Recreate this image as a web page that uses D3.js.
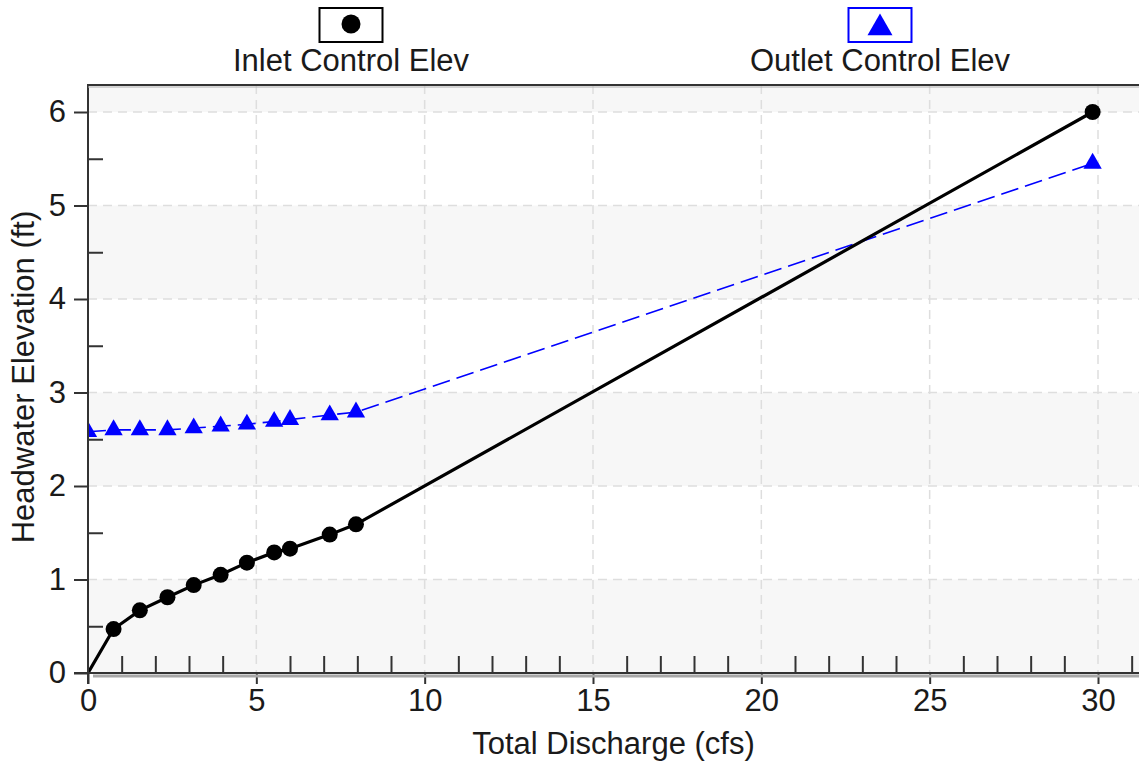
<!DOCTYPE html>
<html>
<head>
<meta charset="utf-8">
<script src="https://cdn.jsdelivr.net/npm/d3@7"></script>
<style>
  body { margin: 0; background: #fff; }
  text { font-family: "Liberation Sans", Arial, sans-serif; fill: #1a1a1a; }
</style>
</head>
<body>
<svg width="1139" height="769"></svg>
<script>
// values
const discharge = [0, 0.76, 1.54, 2.36, 3.14, 3.94, 4.72, 5.53, 6.0, 7.18, 7.96, 29.84]
const inletElev = [0, 0.47, 0.67, 0.81, 0.94, 1.05, 1.18, 1.29, 1.33, 1.48, 1.59, 6.0]
const outletElev = [2.58, 2.60, 2.60, 2.60, 2.62, 2.64, 2.66, 2.69, 2.71, 2.76, 2.79, 5.45]
const xTicks = [0, 5, 10, 15, 20, 25, 30]
const xMinorTicks = d3.range(1, 32).filter(d => d % 5 !== 0)
const yTicks = [0, 1, 2, 3, 4, 5, 6]
const yMinorTicks = [0.5, 1.5, 2.5, 3.5, 4.5, 5.5]
const seriesNames = ['Inlet Control Elev', 'Outlet Control Elev']
const xTitle = 'Total Discharge (cfs)'
const yTitle = 'Headwater Elevation (ft)'

const svg = d3.select('svg')
const width = +svg.attr('width')
const height = +svg.attr('height')
const margin = {top: 85, right: 0, bottom: 96, left: 88}
const plotBottom = height - margin.bottom
const fontSize = 31
const axisColor = '#333'

const x = d3.scaleLinear().domain([0, 30]).range([margin.left, 1098])
const y = d3.scaleLinear().domain([0, 6]).range([plotBottom, 112])
const yTop = y.invert(margin.top)

const inlet = discharge.map((q, i) => ({q: q, v: inletElev[i]}))
const outlet = discharge.map((q, i) => ({q: q, v: outletElev[i]}))

svg.append('clipPath')
  .attr('id', 'plotClip')
  .append('rect')
  .attr('x', margin.left)
  .attr('y', margin.top)
  .attr('width', width - margin.left)
  .attr('height', plotBottom - margin.top)

// shaded bands between every other gridline
svg.append('g')
  .selectAll('rect')
  .data(yTicks.filter(d => d % 2 === 0))
  .join('rect')
  .attr('x', margin.left)
  .attr('y', d => y(Math.min(d + 1, yTop)))
  .attr('width', width - margin.left)
  .attr('height', d => y(d) - y(Math.min(d + 1, yTop)))
  .attr('fill', '#f7f7f7')

// dashed grid
const grid = svg.append('g')
  .attr('stroke', '#dedede')
  .attr('stroke-width', 1.5)
  .attr('stroke-dasharray', '9,6')
grid.selectAll('.vgrid')
  .data(xTicks.filter(d => d > 0))
  .join('line')
  .attr('class', 'vgrid')
  .attr('x1', d => x(d)).attr('x2', d => x(d))
  .attr('y1', margin.top).attr('y2', plotBottom)
grid.selectAll('.hgrid')
  .data(yTicks.filter(d => d > 0))
  .join('line')
  .attr('class', 'hgrid')
  .attr('x1', margin.left).attr('x2', width)
  .attr('y1', d => y(d)).attr('y2', d => y(d))

// series
const line = d3.line().x(d => x(d.q)).y(d => y(d.v))
const plot = svg.append('g').attr('clip-path', 'url(#plotClip)')

plot.append('path')
  .datum(outlet)
  .attr('d', line)
  .attr('fill', 'none')
  .attr('stroke', '#0000ff')
  .attr('stroke-width', 1.6)
  .attr('stroke-dasharray', '18,7')

plot.append('path')
  .datum(inlet)
  .attr('d', line)
  .attr('fill', 'none')
  .attr('stroke', '#000')
  .attr('stroke-width', 3.2)

const triangle = d3.symbol().type(d3.symbolTriangle).size(145)

plot.selectAll('.tri')
  .data(outlet)
  .join('path')
  .attr('class', 'tri')
  .attr('d', triangle)
  .attr('transform', d => `translate(${x(d.q)},${y(d.v)})`)
  .attr('fill', '#0000ff')

plot.selectAll('.dot')
  .data(inlet.filter(d => d.q > 0))
  .join('circle')
  .attr('class', 'dot')
  .attr('cx', d => x(d.q))
  .attr('cy', d => y(d.v))
  .attr('r', 8)
  .attr('fill', '#000')

// axes
const xAxis = svg.append('g')
  .attr('transform', `translate(0,${plotBottom})`)
  .call(d3.axisBottom(x).tickValues(xTicks).tickSize(11).tickPadding(5).tickFormat(d3.format('d')))
xAxis.append('g')
  .call(d3.axisBottom(x).tickValues(xMinorTicks).tickSize(-17).tickFormat(''))

const yAxis = svg.append('g')
  .attr('transform', `translate(${margin.left},0)`)
  .call(d3.axisLeft(y).tickValues(yTicks).tickSize(14).tickPadding(8).tickFormat(d3.format('d')))
yAxis.append('g')
  .call(d3.axisLeft(y).tickValues(yMinorTicks).tickSize(-15).tickFormat(''))

svg.selectAll('.domain').remove()
svg.selectAll('.tick line').attr('stroke', axisColor).attr('stroke-width', 2)
svg.selectAll('.tick text')
  .attr('fill', '#1a1a1a')
  .style('font-size', fontSize + 'px')
  .style('font-family', '"Liberation Sans", Arial, sans-serif')

// axis lines, with the grey shadow under the bottom one
svg.append('line')
  .attr('x1', margin.left + 5).attr('x2', width)
  .attr('y1', plotBottom + 3).attr('y2', plotBottom + 3)
  .attr('stroke', '#a8a8a8').attr('stroke-width', 3)
svg.append('line')
  .attr('x1', margin.left - 14).attr('x2', width)
  .attr('y1', plotBottom).attr('y2', plotBottom)
  .attr('stroke', axisColor).attr('stroke-width', 2)
svg.append('line')
  .attr('x1', margin.left).attr('x2', margin.left)
  .attr('y1', margin.top).attr('y2', plotBottom + 11)
  .attr('stroke', axisColor).attr('stroke-width', 2)
svg.append('line')
  .attr('x1', margin.left).attr('x2', width)
  .attr('y1', margin.top + 2).attr('y2', margin.top + 2)
  .attr('stroke', '#b0b0b0').attr('stroke-width', 1)
svg.append('line')
  .attr('x1', margin.left - 1).attr('x2', width)
  .attr('y1', margin.top).attr('y2', margin.top)
  .attr('stroke', axisColor).attr('stroke-width', 2)

// titles
svg.append('text')
  .attr('x', (margin.left + width) / 2)
  .attr('y', 754)
  .attr('text-anchor', 'middle')
  .style('font-size', fontSize + 'px')
  .text(xTitle)

svg.append('text')
  .attr('transform', `translate(34,${(margin.top + plotBottom) / 2 - 2}) rotate(-90)`)
  .attr('text-anchor', 'middle')
  .style('font-size', fontSize + 'px')
  .text(yTitle)

// legend
const legendX = [351, 880]
const legendColors = ['#000', '#0000ff']
const legend = svg.selectAll('.legend')
  .data(seriesNames)
  .join('g')
  .attr('class', 'legend')
  .attr('transform', (_, i) => `translate(${legendX[i]},0)`)

legend.append('rect')
  .attr('x', -31.5)
  .attr('y', 8)
  .attr('width', 63)
  .attr('height', 34)
  .attr('fill', '#fff')
  .attr('stroke', (_, i) => legendColors[i])
  .attr('stroke-width', 2)

legend.filter((_, i) => i === 0)
  .append('circle')
  .attr('cx', 0)
  .attr('cy', 24)
  .attr('r', 9.5)
  .attr('fill', '#000')

legend.filter((_, i) => i === 1)
  .append('path')
  .attr('d', d3.symbol().type(d3.symbolTriangle).size(270))
  .attr('transform', 'translate(0,28)')
  .attr('fill', '#0000ff')

legend.append('text')
  .attr('x', 0)
  .attr('y', 71)
  .attr('text-anchor', 'middle')
  .style('font-size', fontSize + 'px')
  .text(d => d)
</script>
</body>
</html>
